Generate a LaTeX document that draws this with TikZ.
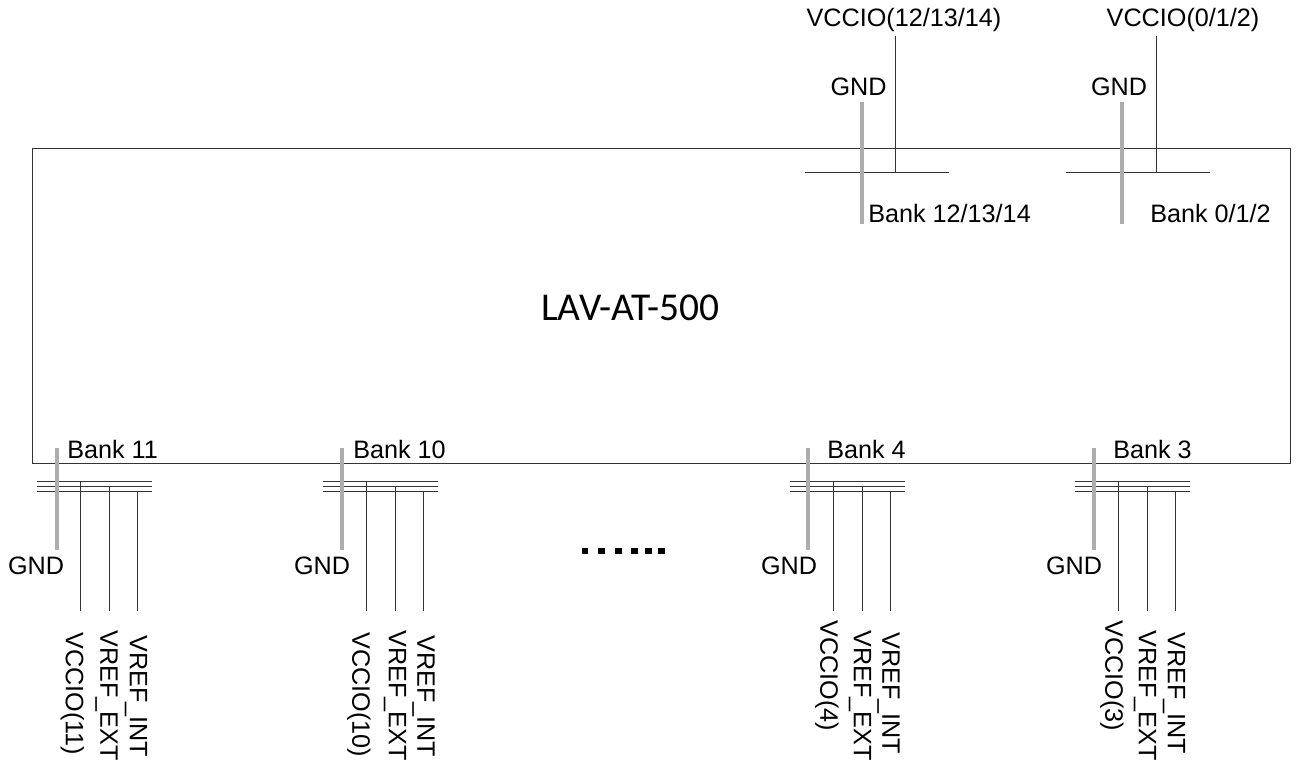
\documentclass[tikz,border=0pt]{standalone}
\usepackage{fontspec}
\setmainfont{Liberation Sans}
\newfontfamily\titlefont{Carlito}
\tikzset{
  thinline/.style={draw=black!80,line width=0.72pt},
  gndline/.style={draw=black!32,line width=2.3pt},
  lbl/.style={inner sep=0pt,font=\fontsize{18.9pt}{20pt}\selectfont,text=black},
  vlbl/.style={lbl,rotate=-90,anchor=west},
  dot/.style={fill=black,inner sep=0pt,minimum size=5.2pt,draw=none,rectangle},
}
\newcommand{\gx}{57}
\newcommand{\bankx}{67}
\newcommand{\bankgroup}[9]{%
 % #1 id, #2 offset, #3 bank label, #4 vccio text, #5 vccio x, #6 vccio top, #7 ext x, #8 int x, #9 int top
 \begin{scope}[shift={(#2,0)}]
  \node[lbl,anchor=west] (bank#1) at (\bankx,449.5) {#3};
  \node[lbl] (gnd#1) at (36,565.5) {GND};
  \coordinate (gt#1) at (\gx,448); \coordinate (gb#1) at (\gx,550);
  \coordinate (al#1) at (37,481); \coordinate (ar#1) at (152,481);
  \coordinate (bl#1) at (37,486); \coordinate (br#1) at (152,486);
  \coordinate (cl#1) at (37,491); \coordinate (cr#1) at (152,491);
  \coordinate (at#1) at (80,481); \coordinate (ab#1) at (80,611);
  \coordinate (bt#1) at (109,486); \coordinate (bb#1) at (109,611);
  \coordinate (ct#1) at (137,491); \coordinate (cb#1) at (137,611);
  \draw[thinline] (al#1)--(ar#1);
  \draw[thinline] (bl#1)--(br#1);
  \draw[thinline] (cl#1)--(cr#1);
  \draw[thinline] (at#1)--(ab#1);
  \draw[thinline] (bt#1)--(bb#1);
  \draw[thinline] (ct#1)--(cb#1);
  \draw[gndline] (gt#1)--(gb#1);
  \node[vlbl] (vcc#1) at (#5,#6) {#4};
  \node[vlbl] (ext#1) at (#7,630.5) {VREF\_EXT};
  \node[vlbl] (int#1) at (#8,#9) {VREF\_INT};
 \end{scope}}
\begin{document}
\begin{tikzpicture}[x=0.75pt,y=-0.75pt]
\useasboundingbox (0,0) rectangle (1301,763);
\fill[white] (0,0) rectangle (1301,763);
\node[draw=black!80,line width=0.72pt,rectangle,inner sep=0pt,minimum width=943.5pt,minimum height=235.5pt,anchor=north west] (chip) at (32,148.5) {};
\node[inner sep=0pt,font=\titlefont\fontsize{29.6pt}{31pt}\selectfont] (title) at (630.5,308) {LAV-AT-500};
% top banks
\coordinate (p1l) at (805,172); \coordinate (p1r) at (949,172);
\coordinate (p1g) at (862,102); \coordinate (p1b) at (862,224);
\coordinate (p1v) at (895,36); \coordinate (p1j) at (895,172);
\draw[thinline] (p1l)--(p1r);
\draw[thinline] (p1v)--(p1j);
\draw[gndline] (p1g)--(p1b);
\node[lbl] (v1) at (904,20) {VCCIO(12/13/14)};
\node[lbl] (g1) at (858.5,86.5) {GND};
\node[lbl,anchor=west] (b1) at (868,213.5) {Bank 12/13/14};
\coordinate (p2l) at (1066,172); \coordinate (p2r) at (1210,172);
\coordinate (p2g) at (1122,102); \coordinate (p2b) at (1122,224);
\coordinate (p2v) at (1156,36); \coordinate (p2j) at (1156,172);
\draw[thinline] (p2l)--(p2r);
\draw[thinline] (p2v)--(p2j);
\draw[gndline] (p2g)--(p2b);
\node[lbl] (v2) at (1183,20) {VCCIO(0/1/2)};
\node[lbl] (g2) at (1119,86.5) {GND};
\node[lbl,anchor=west] (b2) at (1150,213.5) {Bank 0/1/2};
% bottom banks
\bankgroup{a}{0}{Bank 11}{VCCIO(11)}{72.5}{632}{106.5}{136}{635}
\renewcommand{\gx}{56}\renewcommand{\bankx}{67}
\bankgroup{b}{286}{Bank 10}{VCCIO(10)}{73}{632}{109}{137.5}{635}
\renewcommand{\gx}{55}\renewcommand{\bankx}{74}
\bankgroup{c}{753}{Bank 4}{VCCIO(4)}{74}{620}{107}{135.5}{632}
\renewcommand{\gx}{56}\renewcommand{\bankx}{75}
\bankgroup{d}{1038}{Bank 3}{VCCIO(3)}{74}{620}{107}{136}{632}
% ellipsis
\node[dot] (d1) at (585,551) {};
\node[dot] (d2) at (601.5,551) {};
\node[dot] (d3) at (618.5,551) {};
\node[dot] (d4) at (634.5,551) {};
\node[dot] (d5) at (648.5,551) {};
\node[dot] (d6) at (661.5,551) {};
\end{tikzpicture}
\end{document}
